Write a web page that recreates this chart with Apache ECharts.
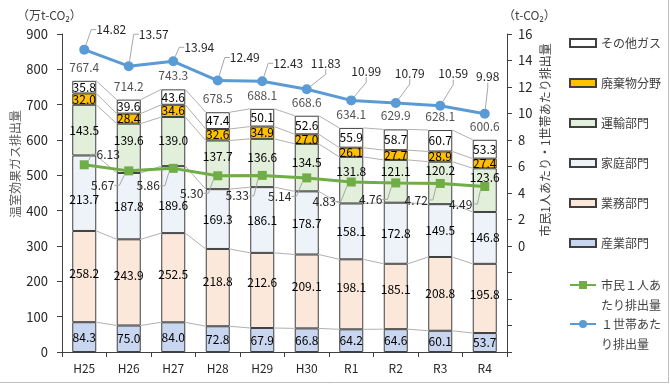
<!DOCTYPE html>
<html>
<head>
<meta charset="utf-8">
<script src="https://cdn.jsdelivr.net/npm/echarts@6/dist/echarts.min.js"></script>
<style>html,body{margin:0;padding:0;background:#fff}#c{width:670px;height:385px}</style>
</head>
<body>
<div id="c"></div>
<script>
const categories = ['H25','H26','H27','H28','H29','H30','R1','R2','R3','R4'];
const sangyo  = [84.3, 75.0, 84.0, 72.8, 67.9, 66.8, 64.2, 64.6, 60.1, 53.7];
const gyomu   = [258.2, 243.9, 252.5, 218.8, 212.6, 209.1, 198.1, 185.1, 208.8, 195.8];
const katei   = [213.7, 187.8, 189.6, 169.3, 186.1, 178.7, 158.1, 172.8, 149.5, 146.8];
const unyu    = [143.5, 139.6, 139.0, 137.7, 136.6, 134.5, 131.8, 121.1, 120.2, 123.6];
const haiki   = [32.0, 28.4, 34.6, 32.6, 34.9, 27.0, 26.1, 27.7, 28.9, 27.4];
const sonota  = [35.8, 39.6, 43.6, 47.4, 50.1, 52.6, 55.9, 58.7, 60.7, 53.3];
const totals  = [767.4, 714.2, 743.3, 678.5, 688.1, 668.6, 634.1, 629.9, 628.1, 600.6];
const perPerson    = [6.13, 5.67, 5.86, 5.30, 5.33, 5.14, 4.83, 4.76, 4.72, 4.49];
const perHousehold = [14.82, 13.57, 13.94, 12.49, 12.43, 11.83, 10.99, 10.79, 10.59, 9.98];
const leftTicks = {min: 0, max: 900, interval: 100};
const rightTicks = {min: -8, max: 16, interval: 2};

// label offsets (layout only, px)
const greenOff = [[24,-12],[-26,13],[-25,16],[-26,16],[-25,19],[-27,17],[-27,18],[-25,15],[-24,15],[-24,16]];
const blueOff  = [[27,-21],[25,-33],[26,-15],[27,-24],[26,-19],[19,-27],[15,-30],[14,-31],[13,-33],[3,-38]];
const barLabelDy = {
  '業務部門': [-3,-7,-3,-6,-8,-5,-7,-7,0,-4],
  '家庭部門': [6,0,6,0,0,0,0,0,0,0],
  '運輸部門': [0,-8,-1,-8,-6,-5,-9,-10,-12,-13]
};

const FONT = '"Noto Sans CJK JP", "Noto Sans", sans-serif';
const TXT = '#262626';
const BORDER = '#404040';

const stacks = [
  {name:'産業部門', data:sangyo, color:'#C8D6EF'},
  {name:'業務部門', data:gyomu, color:'#FBE8DB'},
  {name:'家庭部門', data:katei, color:'#EEF3FA'},
  {name:'運輸部門', data:unyu, color:'#E2EFDA'},
  {name:'廃棄物分野', data:haiki, color:'#FFC000'},
  {name:'その他ガス', data:sonota, color:'#FFFFFF'}
];
const levels = [];
let acc = categories.map(() => 0);
stacks.forEach(s => { acc = acc.map((v, i) => v + s.data[i]); levels.push(acc.slice()); });

const BARW = 0.54;
const series = stacks.map(s => {
  const dys = barLabelDy[s.name];
  const o = {
    name: s.name, type: 'bar', stack: 'total', barWidth: (BARW*100)+'%',
    data: s.data, z: 3,
    itemStyle: {color: s.color, borderColor: BORDER, borderWidth: 1},
    label: {show: true, position: 'inside', color: '#000', fontSize: 12, fontFamily: FONT,
            formatter: p => p.value.toFixed(1)}
  };
  if (dys) o.labelLayout = p => ({dy: dys[p.dataIndex]});
  return o;
});

series.push({
  name: 'connectors', type: 'custom', z: 2, silent: true,
  data: categories.slice(0, -1).map((c, i) => [i, 0]),
  encode: {x: 0, y: 1},
  renderItem: function (params, api) {
    const i = api.value(0);
    const half = api.size([1, 0])[0] * BARW / 2;
    const children = levels.map(lv => {
      const p1 = api.coord([i, lv[i]]);
      const p2 = api.coord([i + 1, lv[i + 1]]);
      return {type: 'line', shape: {x1: p1[0] + half, y1: p1[1], x2: p2[0] - half, y2: p2[1]},
              style: {stroke: '#b0b0b0', lineWidth: 1}};
    });
    return {type: 'group', children: children};
  }
});

series.push({
  name: 'totals', type: 'scatter', data: totals, symbolSize: 1, z: 4,
  itemStyle: {color: 'rgba(0,0,0,0)'}, silent: true,
  label: {show: true, position: 'top', distance: 7, color: TXT, fontSize: 12, fontFamily: FONT,
          formatter: p => p.value.toFixed(1)}
});

const leader = {show: true, length2: 5, lineStyle: {color: '#a6a6a6', width: 1}};
series.push({
  name: '市民１人あたり排出量', type: 'line', yAxisIndex: 1, data: perPerson, z: 6,
  symbol: 'rect', symbolSize: 9,
  lineStyle: {color: '#70AD47', width: 3}, itemStyle: {color: '#70AD47'},
  label: {show: true, position: 'top', distance: 5, color: TXT, fontSize: 12, fontFamily: FONT,
          formatter: p => p.value.toFixed(2)},
  labelLine: leader,
  labelLayout: p => ({dx: greenOff[p.dataIndex][0], dy: greenOff[p.dataIndex][1] + 17})
});
series.push({
  name: '１世帯あたり排出量', type: 'line', yAxisIndex: 1, data: perHousehold, z: 7,
  symbol: 'circle', symbolSize: 10,
  lineStyle: {color: '#5B9BD5', width: 3}, itemStyle: {color: '#5B9BD5'},
  label: {show: true, position: 'top', distance: 5, color: TXT, fontSize: 12, fontFamily: FONT,
          formatter: p => p.value.toFixed(2)},
  labelLine: leader,
  labelLayout: p => ({dx: blueOff[p.dataIndex][0], dy: blueOff[p.dataIndex][1] + 17})
});

const legendText = {fontSize: 12, fontFamily: FONT, color: '#404040', lineHeight: 16};
const lineLegendText = {fontSize: 12, fontFamily: FONT, color: '#404040', lineHeight: 20};
const option = {
  animation: false,
  textStyle: {fontFamily: FONT},
  grid: {left: 62, right: 163, top: 34, bottom: 33},
  xAxis: {
    type: 'category', data: categories, boundaryGap: true,
    axisLine: {lineStyle: {color: BORDER}},
    axisTick: {show: true, alignWithLabel: false, length: 5, lineStyle: {color: BORDER}},
    axisLabel: {color: TXT, fontSize: 12, fontFamily: FONT, margin: 10}
  },
  yAxis: [
    {type: 'value', min: leftTicks.min, max: leftTicks.max, interval: leftTicks.interval,
     axisLine: {show: true, lineStyle: {color: BORDER}},
     axisTick: {show: true, length: 5, lineStyle: {color: BORDER}},
     splitLine: {show: false},
     axisLabel: {color: TXT, fontSize: 13, fontFamily: FONT, margin: 14}},
    {type: 'value', position: 'right', min: rightTicks.min, max: rightTicks.max, interval: rightTicks.interval,
     axisLine: {show: true, lineStyle: {color: BORDER}},
     axisTick: {show: true, length: 5, lineStyle: {color: BORDER}},
     splitLine: {show: false},
     axisLabel: {color: TXT, fontSize: 13, fontFamily: FONT, margin: 11,
                 formatter: v => v < 0 ? '' : String(v)}}
  ],
  legend: [
    {orient: 'vertical', left: 569, top: 35, padding: 0, itemWidth: 26, itemHeight: 8, itemGap: 24,
     icon: 'rect', selectedMode: false, textStyle: legendText,
     data: ['その他ガス','廃棄物分野','運輸部門','家庭部門','業務部門','産業部門']},
    {orient: 'vertical', left: 569, top: 255, padding: 0, itemWidth: 26, itemHeight: 10,
     selectedMode: false, textStyle: lineLegendText,
     formatter: n => ' \n' + n.slice(0, 5) + '\n' + n.slice(5),
     data: ['市民１人あたり排出量']},
    {orient: 'vertical', left: 569, top: 294, padding: 0, itemWidth: 26, itemHeight: 10,
     selectedMode: false, textStyle: lineLegendText,
     formatter: n => ' \n' + n.slice(0, 5) + '\n' + n.slice(5),
     data: ['１世帯あたり排出量']}
  ],
  graphic: [
    {type: 'text', left: 17, top: 9, style: {text: '（万t-CO₂）', fontSize: 12, fontFamily: FONT, fill: '#404040'}},
    {type: 'text', left: 503, top: 9, style: {text: '（t-CO₂）', fontSize: 12, fontFamily: FONT, fill: '#404040'}},
    {type: 'text', x: 15, y: 164, rotation: Math.PI / 2,
     style: {text: '温室効果ガス排出量', fontSize: 12, fontFamily: FONT, fill: '#595959', align: 'center', verticalAlign: 'middle'}},
    {type: 'text', x: 545, y: 140, rotation: Math.PI / 2,
     style: {text: '市民1人あたり・1世帯あたり排出量', fontSize: 12, fontFamily: FONT, fill: '#404040', align: 'center', verticalAlign: 'middle'}},
    {type: 'line', shape: {x1: 0, y1: 382.5, x2: 669, y2: 382.5}, style: {stroke: '#bfbfbf', lineWidth: 1}},
    {type: 'line', shape: {x1: 668.5, y1: 0, x2: 668.5, y2: 383}, style: {stroke: '#bfbfbf', lineWidth: 1}}
  ],
  series: series
};
const chart = echarts.init(document.getElementById('c'));
chart.setOption(option);
</script>
</body>
</html>
